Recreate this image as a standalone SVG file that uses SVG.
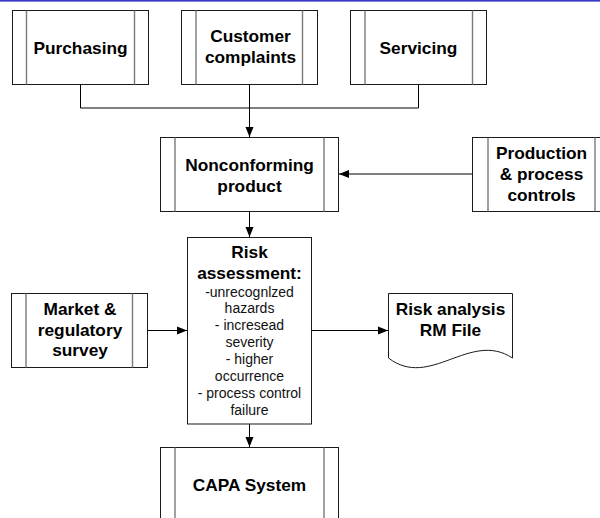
<svg xmlns="http://www.w3.org/2000/svg" width="600" height="518" viewBox="0 0 600 518">
  <style>
    .frame { fill: #ffffff; stroke: #1a1a1a; stroke-width: 1; }
    .bar { stroke: #7a7a7a; stroke-width: 1.4; fill: none; }
    .title { font-family: "Liberation Sans", Arial, sans-serif; font-weight: bold; font-size: 17.3px; fill: #000; text-anchor: middle; }
    .body { font-family: "Liberation Sans", Arial, sans-serif; font-size: 14px; fill: #111; text-anchor: middle; }
    .wire { stroke: #000; stroke-width: 1; fill: none; }
  </style>
  <defs>
    <marker id="arrow" markerUnits="userSpaceOnUse" markerWidth="10" markerHeight="10" viewBox="0 0 10 10" refX="10" refY="5" orient="auto">
      <path d="M0,1 L10,5 L0,9 Z" fill="#000"/>
    </marker>
  </defs>

  <rect x="0" y="0" width="600" height="1.6" fill="#3636c8"/>

  <!-- predefined-process boxes -->
  <g id="purchasing">
    <rect class="frame" x="12.5" y="10.5" width="136" height="74"/>
    <path class="bar" d="M26.5,10.5 V84.5 M134.5,10.5 V84.5"/>
    <text class="title" x="80.5" y="53.5">Purchasing</text>
  </g>

  <g id="customer-complaints">
    <rect class="frame" x="181.5" y="10.5" width="136" height="74"/>
    <path class="bar" d="M196,10.5 V84.5 M302.5,10.5 V84.5"/>
    <text class="title" x="250.5" y="42">Customer</text>
    <text class="title" x="250.5" y="63">complaints</text>
  </g>

  <g id="servicing">
    <rect class="frame" x="350.5" y="10.5" width="136" height="74"/>
    <path class="bar" d="M365,10.5 V84.5 M472.5,10.5 V84.5"/>
    <text class="title" x="418.5" y="53.5">Servicing</text>
  </g>

  <g id="nonconforming-product">
    <rect class="frame" x="160.5" y="137.5" width="178" height="74"/>
    <path class="bar" d="M175,137.5 V211.5 M324,137.5 V211.5"/>
    <text class="title" x="249.5" y="170.5">Nonconforming</text>
    <text class="title" x="249.5" y="191.5">product</text>
  </g>

  <g id="production-controls">
    <rect class="frame" x="472.5" y="137.5" width="137" height="74"/>
    <path class="bar" d="M488,137.5 V211.5 M595,137.5 V211.5"/>
    <text class="title" x="541.5" y="159">Production</text>
    <text class="title" x="541.5" y="180">&amp; process</text>
    <text class="title" x="541.5" y="201">controls</text>
  </g>

  <g id="market-survey">
    <rect class="frame" x="11.5" y="293.5" width="136" height="74"/>
    <path class="bar" d="M26,293.5 V367.5 M132.5,293.5 V367.5"/>
    <text class="title" x="80" y="315">Market &amp;</text>
    <text class="title" x="80" y="335.5">regulatory</text>
    <text class="title" x="80" y="356">survey</text>
  </g>

  <!-- process box -->
  <g id="risk-assessment">
    <rect class="frame" x="187.5" y="237.5" width="124" height="186.5"/>
    <text class="title" x="249.5" y="257.5">Risk</text>
    <text class="title" x="249.5" y="278.5">assessment:</text>
    <text class="body" x="249.5" y="296.5">-unrecognlzed</text>
    <text class="body" x="249.5" y="313.4">hazards</text>
    <text class="body" x="249.5" y="330.3">- incresead</text>
    <text class="body" x="249.5" y="347.2">severity</text>
    <text class="body" x="249.5" y="364.1">- higher</text>
    <text class="body" x="249.5" y="381">occurrence</text>
    <text class="body" x="249.5" y="397.9">- process control</text>
    <text class="body" x="249.5" y="414.8">failure</text>
  </g>

  <!-- document shape -->
  <g id="risk-analysis-file">
    <path class="frame" d="M388.5,293.5 H512.5 V358 C470,330 430,390 388.5,358 Z"/>
    <text class="title" x="450.5" y="315">Risk analysis</text>
    <text class="title" x="450.5" y="336">RM File</text>
  </g>

  <g id="capa-system">
    <rect class="frame" x="160.5" y="447.5" width="178" height="75"/>
    <path class="bar" d="M175,447.5 V522.5 M324,447.5 V522.5"/>
    <text class="title" x="249.5" y="490.5">CAPA System</text>
  </g>

  <!-- connectors -->
  <g id="connectors">
    <path class="wire" d="M80.5,84.5 V108 H418.5 V84.5"/>
    <path class="wire" d="M249.5,84.5 V137" marker-end="url(#arrow)"/>
    <path class="wire" d="M472.5,174 H339" marker-end="url(#arrow)"/>
    <path class="wire" d="M249.5,211.5 V237" marker-end="url(#arrow)"/>
    <path class="wire" d="M147.5,330.5 H187" marker-end="url(#arrow)"/>
    <path class="wire" d="M311.5,330.5 H388" marker-end="url(#arrow)"/>
    <path class="wire" d="M249.5,424 V447" marker-end="url(#arrow)"/>
  </g>
</svg>
